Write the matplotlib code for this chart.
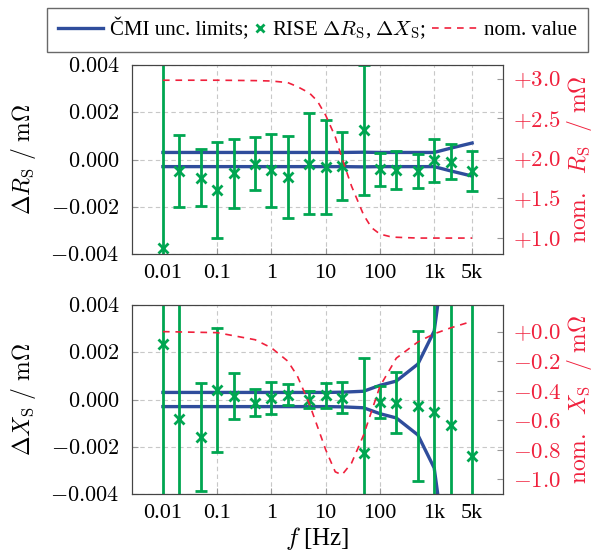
import numpy as np
import matplotlib
matplotlib.use('Agg')
import matplotlib.pyplot as plt
from matplotlib.lines import Line2D
from matplotlib.legend_handler import HandlerLine2D
from matplotlib.ticker import FuncFormatter, FixedLocator, NullLocator

plt.rcParams['font.family'] = ['Liberation Serif', 'DejaVu Serif']
plt.rcParams['mathtext.fontset'] = 'cm'
plt.rcParams['font.size'] = 16

# === data ===
freq = [0.01, 0.02, 0.05, 0.1, 0.2, 0.5, 1, 2, 5, 10, 20, 50, 100, 200, 500, 1000, 2000, 5000]

# RISE deviations (mOhm) with uncertainty
rise_dR = [-0.00374, -0.00049, -0.00077, -0.00129, -0.00058, -0.00017, -0.00046, -0.00074, -0.00018,
           -0.00030, -0.00027, 0.00125, -0.00042, -0.00044, -0.00048, -0.00002, -0.00010, -0.00049]
rise_dR_unc = [0.012, 0.00151, 0.00121, 0.00203, 0.00147, 0.00112, 0.00153, 0.00172, 0.00214,
               0.00199, 0.00145, 0.00274, 0.00069, 0.00082, 0.00073, 0.00091, 0.00074, 0.00085]
rise_dX = [0.00233, -0.00081, -0.00158, 0.00040, 0.00014, -0.00013, 0.00007, 0.00021, 0.0,
           0.00018, 0.00008, -0.00228, -0.00010, -0.00014, -0.00027, -0.00052, -0.00109, -0.00239]
rise_dX_unc = [0.012, 0.012, 0.00228, 0.00264, 0.00098, 0.00056, 0.00069, 0.00046, 0.00035,
               0.00053, 0.00066, 0.00402, 0.00069, 0.00129, 0.00317, 0.012, 0.012, 0.012]

# CMI uncertainty limits (+/-)
cmi_dR = [0.0003, 0.0003, 0.0003, 0.0003, 0.0003, 0.0003, 0.0003, 0.0003, 0.0003,
          0.0003, 0.0003, 0.00031, 0.0003, 0.0003, 0.0003, 0.0003, 0.00048, 0.0007]
cmi_dX = [0.0003, 0.0003, 0.0003, 0.0003, 0.0003, 0.0003, 0.0003, 0.0003, 0.0003,
          0.0003, 0.00031, 0.00035, 0.0006, 0.00078, 0.0015, 0.0029, 0.008, 0.03]

# nominal values (mOhm)
nom_freq = [0.01, 0.1, 0.5, 1, 2, 3, 5, 7, 10, 15, 20, 30, 50, 70, 100, 150, 200, 500, 1000, 2000, 5000]
nom_R = [2.98, 2.98, 2.975, 2.97, 2.95, 2.90, 2.82, 2.72, 2.54, 2.27, 2.00, 1.65, 1.29, 1.13,
         1.05, 1.02, 1.01, 1.00, 1.00, 1.00, 1.00]
nom_X = [0.0, -0.007, -0.055, -0.11, -0.20, -0.30, -0.49, -0.64, -0.80, -0.95, -0.97, -0.89, -0.70,
         -0.54, -0.37, -0.26, -0.18, -0.07, -0.015, 0.025, 0.07]

xticks = [0.01, 0.1, 1, 10, 100, 1000, 5000]
xticklabels = ['0.01', '0.1', '1', '10', '100', '1k', '5k']

blue = '#2f4d9c'
green = '#00a651'
red = '#f0203c'
gray = '#444444'


# legend entry with a narrow handle box (marker only)
class NarrowMarker(HandlerLine2D):
    def legend_artist(self, legend, orig_handle, fontsize, handlebox):
        handlebox.width = 0.55 * fontsize
        return super().legend_artist(legend, orig_handle, fontsize, handlebox)


# pgfplots-like 10% enlargement of the log range
lo, hi = np.log10(min(freq)), np.log10(max(freq))
pad = 0.1 * (hi - lo)
xlim = (10 ** (lo - pad), 10 ** (hi + pad))

fig = plt.figure(figsize=(5.99, 5.59), dpi=100)
ax_r = fig.add_axes([0.2204, 0.5456, 0.6194, 0.338])
ax_x = fig.add_axes([0.2204, 0.1163, 0.6194, 0.338])

panels = [
    (ax_r, rise_dR, rise_dR_unc, cmi_dR, nom_R, (0.80, 3.17), [1.0, 1.5, 2.0, 2.5, 3.0],
     r'$\Delta R_\mathrm{S}\ /\ \mathrm{m}\Omega$', r'$\mathrm{nom.}\ \ R_\mathrm{S}\ \ /\ \mathrm{m}\Omega$'),
    (ax_x, rise_dX, rise_dX_unc, cmi_dX, nom_X, (-1.10, 0.18), [-1.0, -0.8, -0.6, -0.4, -0.2, 0.0],
     r'$\Delta X_\mathrm{S}\ /\ \mathrm{m}\Omega$', r'$\mathrm{nom.}\ \ X_\mathrm{S}\ \ /\ \mathrm{m}\Omega$'),
]

for ax, d, unc, cmi, nom, rlim, rticks, lab, rlab in panels:
    cmi = np.array(cmi)
    ax.plot(freq, cmi, color=blue, lw=2.4, zorder=2)
    ax.plot(freq, -cmi, color=blue, lw=2.4, zorder=2)
    ax.errorbar(freq, d, yerr=unc, fmt='x', color=green, ms=7, mew=2, elinewidth=2,
                capsize=4.5, capthick=2, zorder=3)
    ax.set_xscale('log')
    ax.set_xlim(xlim)
    ax.set_ylim(-0.004, 0.004)
    ax.xaxis.set_major_locator(FixedLocator(xticks))
    ax.xaxis.set_minor_locator(NullLocator())
    ax.set_xticklabels(xticklabels)
    ax.set_yticks([-0.004, -0.002, 0.0, 0.002, 0.004])
    ax.yaxis.set_major_formatter(FuncFormatter(lambda v, p: f'${v:.3f}$'))
    ax.grid(True, ls=(0, (4, 3)), color='#c8c8c8', lw=0.8, zorder=0)
    ax.tick_params(axis='y', direction='in', length=4, color='#999999', pad=9)
    ax.tick_params(axis='x', direction='in', length=4, color='#999999', pad=7)
    ax.set_ylabel(lab, fontsize=17, labelpad=9)
    for s in ax.spines.values():
        s.set_color(gray)

    ax2 = ax.twinx()
    ax2.plot(nom_freq, nom, color=red, lw=1.2, dashes=(4, 3.5))
    ax2.set_ylim(rlim)
    ax2.set_yticks(rticks)
    ax2.yaxis.set_major_formatter(FuncFormatter(lambda v, p: f'${v:+.1f}$'))
    ax2.tick_params(direction='in', length=4, color='#999999', labelcolor=red, labelsize=16.5, pad=7)
    ax2.set_ylabel(rlab, color=red, fontsize=17, labelpad=3)
    for s in ax2.spines.values():
        s.set_color(gray)

ax_x.set_xlabel(r'$f$ [Hz]', fontsize=18, labelpad=2)

h1 = Line2D([], [], color=blue, lw=2.4)
h2 = Line2D([], [], color=green, marker='x', ls='none', ms=6, mew=2)
h3 = Line2D([], [], color=red, lw=1.2, dashes=(4, 3.5))
fig.legend([h1, h2, h3],
           ['ČMI unc. limits;', r'RISE $\Delta R_\mathrm{S}$, $\Delta X_\mathrm{S}$;', 'nom. value'],
           handler_map={h2: NarrowMarker()},
           loc='center', bbox_to_anchor=(0.530, 0.947), ncol=3, frameon=True, fancybox=False,
           edgecolor=gray, fontsize=15, handlelength=2.2, handletextpad=0.3, columnspacing=0.3,
           borderpad=0.5)

fig.savefig('out.png', dpi=100)
